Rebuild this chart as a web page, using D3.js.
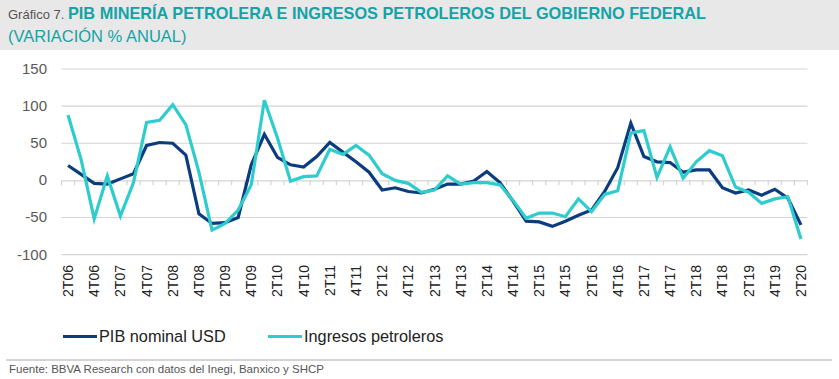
<!DOCTYPE html>
<html><head><meta charset="utf-8">
<script src="https://cdn.jsdelivr.net/npm/d3@7"></script>
<style>body{margin:0;background:#fff;font-family:"Liberation Sans",Arial,sans-serif}</style>
</head><body><svg id="c" width="839" height="379"></svg>
<script>
const years = ["06","07","08","09","10","11","12","13","14","15","16","17","18","19","20"];
const quarters = [];
for (const y of years) for (const q of [1,2,3,4]) quarters.push(q + "T" + y);
const categories = quarters.slice(1, 58); // 2T06 .. 2T20
const pibNominalUSD = [20,8,-4,-5,2,9,47,51,50,34,-45,-58,-57,-50,21,62,31,21,18,32,51,38,25,11,-13,-10,-15,-17,-12,-5,-5,-1,12,-3,-28,-55,-56,-62,-55,-47,-40,-15,17,77,32,25,24,11,14,14,-10,-17,-13,-20,-12,-24,-60];
const ingresosPetroleros = [88,28,-52,6,-48,-3,78,81,102,75,11,-67,-58,-40,-6,108,57,-1,5,6,42,35,47,34,9,0,-4,-16,-13,6,-5,-3,-3,-6,-27,-51,-44,-44,-49,-25,-42,-19,-14,64,67,4,45,3,25,40,33,-9,-16,-31,-25,-22,-79];
const yTicks = [-100,-50,0,50,100,150];
const seriesNames = ["PIB nominal USD","Ingresos petroleros"];
const colors = ["#0b3d7e","#2ecccd"];

const svg = d3.select("#c");
// header
svg.append("rect").attr("x",0).attr("y",0).attr("width",839).attr("height",50).attr("fill","#e8e8e8");
const t1 = svg.append("text").attr("x",8).attr("y",19);
t1.append("tspan").attr("fill","#555").attr("font-size",13).text("Gráfico 7. ");
t1.append("tspan").attr("fill","#14a3a6").attr("font-size",16.3).attr("font-weight","bold").text("PIB MINERÍA PETROLERA E INGRESOS PETROLEROS DEL GOBIERNO FEDERAL");
svg.append("text").attr("x",8).attr("y",42).attr("fill","#14a3a6").attr("font-size",16.5).text("(VARIACIÓN % ANUAL)");

const x = d3.scaleBand().domain(categories).range([61.5, 807.5]);
const y = d3.scaleLinear().domain([-100,150]).range([254.6, 69]);
const cx = d => x(d) + x.bandwidth()/2;

// grid
svg.append("g").selectAll("line").data(yTicks.filter(v=>v!==0)).join("line")
  .attr("x1",61.5).attr("x2",807.5).attr("y1",d=>y(d)).attr("y2",d=>y(d))
  .attr("stroke","#d4d4d4").attr("stroke-width",1.2);
// y labels
svg.append("g").selectAll("text").data(yTicks).join("text")
  .attr("x",47).attr("y",d=>y(d)+5).attr("text-anchor","end")
  .attr("font-size",15).attr("fill","#595959").text(d=>d);

// zero axis with ticks
const ax = svg.append("g").attr("transform",`translate(0,${y(0)})`)
  .call(d3.axisBottom(x).tickSize(0).tickFormat(""));
ax.select(".domain").attr("stroke","#d4d4d4").attr("stroke-width",1.2);
const bounds = categories.map(c=>x(c)).concat([807.5]);
svg.append("g").selectAll("line").data(bounds).join("line")
  .attr("x1",d=>d).attr("x2",d=>d).attr("y1",y(0)).attr("y2",y(0)+5)
  .attr("stroke","#d4d4d4").attr("stroke-width",1.2);

// x labels
const labelCats = categories.filter((c,i)=>i%2===0);
svg.append("g").selectAll("text").data(labelCats).join("text")
  .attr("transform",d=>`translate(${cx(d)+5},265) rotate(-90)`)
  .attr("text-anchor","end").attr("font-size",14).attr("fill","#222").text(d=>d);

// lines
const line = d3.line().x((d,i)=>cx(categories[i])).y(d=>y(d));
[pibNominalUSD, ingresosPetroleros].forEach((s,k)=>{
  svg.append("path").datum(s).attr("d",line).attr("fill","none")
    .attr("stroke",colors[k]).attr("stroke-width",3.2).attr("stroke-linejoin","miter");
});

// legend
const lx = [63, 268];
seriesNames.forEach((n,k)=>{
  svg.append("line").attr("x1",lx[k]).attr("x2",lx[k]+34).attr("y1",336.5).attr("y2",336.5)
    .attr("stroke",colors[k]).attr("stroke-width",3.2);
  svg.append("text").attr("x",lx[k]+36).attr("y",342).attr("font-size",16.3).attr("fill","#222").text(n);
});

// footer
svg.append("line").attr("x1",6).attr("x2",832).attr("y1",360).attr("y2",360).attr("stroke","#d4d4d4").attr("stroke-width",2);
svg.append("text").attr("x",9).attr("y",373).attr("font-size",11.5).attr("fill","#555")
  .text("Fuente: BBVA Research con datos del Inegi, Banxico y SHCP");
</script></body></html>
